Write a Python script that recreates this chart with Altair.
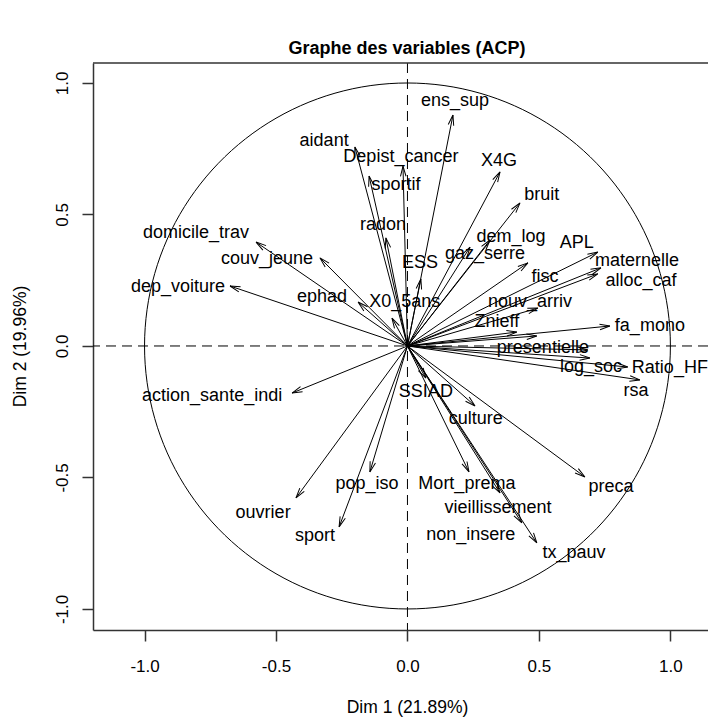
import altair as alt
import pandas as pd

# Variable names (PCA correlation circle)
names = [
    "ens_sup", "aidant", "Depist_cancer", "sportif", "radon", "X4G", "bruit",
    "dem_log", "gaz_serre", "ESS", "APL", "maternelle", "alloc_caf", "fisc",
    "nouv_arriv", "Znieff", "fa_mono", "presentielle", "", "log_soc",
    "Ratio_HF", "rsa", "domicile_trav", "couv_jeune", "dep_voiture", "ephad",
    "X0_5ans", "action_sante_indi", "SSIAD", "culture", "pop_iso", "ouvrier",
    "sport", "Mort_prema", "vieillissement", "non_insere", "tx_pauv", "preca",
]
# Coordinates on Dim 1 / Dim 2 (arrow tips)
dim1 = [
    0.173, -0.200, -0.017, -0.146, -0.082, 0.352, 0.428,
    0.314, 0.238, 0.051, 0.724, 0.736, 0.724, 0.458,
    0.496, 0.416, 0.770, 0.686, 0.492, 0.694,
    0.838, 0.884, -0.576, -0.333, -0.675, -0.188,
    -0.059, -0.439, 0.070, 0.257, -0.143, -0.424,
    -0.260, 0.234, 0.352, 0.435, 0.492, 0.675,
]
dim2 = [
    0.878, 0.757, 0.684, 0.646, 0.411, 0.662, 0.544,
    0.403, 0.376, 0.255, 0.357, 0.297, 0.274, 0.316,
    0.144, 0.053, 0.076, -0.015, 0.038, -0.046,
    -0.080, -0.129, 0.395, 0.335, 0.228, 0.167,
    0.106, -0.179, -0.122, -0.228, -0.479, -0.578,
    -0.688, -0.479, -0.559, -0.673, -0.749, -0.498,
]
# Label positions (as placed in the figure)
lab1 = [
    0.181, -0.317, -0.025, -0.044, -0.093, 0.348, 0.511,
    0.394, 0.295, 0.048, 0.644, 0.873, 0.888, 0.523,
    0.466, 0.340, 0.922, 0.515, 0.492, 0.698,
    0.998, 0.869, -0.804, -0.534, -0.873, -0.325,
    -0.010, -0.743, 0.070, 0.260, -0.154, -0.549,
    -0.352, 0.226, 0.344, 0.241, 0.633, 0.774,
]
lab2 = [
    0.932, 0.779, 0.719, 0.612, 0.460, 0.703, 0.574,
    0.415, 0.350, 0.316, 0.392, 0.323, 0.247, 0.262,
    0.167, 0.091, 0.076, -0.008, 0.038, -0.080,
    -0.084, -0.171, 0.430, 0.331, 0.224, 0.186,
    0.167, -0.190, -0.175, -0.278, -0.525, -0.635,
    -0.722, -0.525, -0.616, -0.719, -0.787, -0.536,
]
tick_values = [-1.0, -0.5, 0.0, 0.5, 1.0]

df = pd.DataFrame({"name": names, "d1": dim1, "d2": dim2, "l1": lab1, "l2": lab2})

FONT = "Liberation Sans"
FRAME = "#333333"
W, H = 615, 567

xs = alt.Scale(domain=[-1.196, 1.143], nice=False, zero=False)
ys = alt.Scale(domain=[-1.08, 1.076], nice=False, zero=False)

lab_expr = "replace(format(datum.value, '.1f'), '\u2212', '-')"

xaxis = alt.Axis(
    values=tick_values, labelExpr=lab_expr, title="Dim 1 (21.89%)", grid=False,
    tickSize=11, tickColor=FRAME, tickWidth=1.5, domainColor=FRAME, domainWidth=1.5,
    labelFont=FONT, labelFontSize=17, labelColor="black", labelPadding=17, labelFlush=False,
    titleFont=FONT, titleFontSize=17.5, titleFontWeight="normal", titleColor="black",
    titleX=314, titleY=77, titleAlign="center", titleBaseline="middle",
)
yaxis = alt.Axis(
    values=tick_values, labelExpr=lab_expr, title="Dim 2 (19.96%)", grid=False,
    tickSize=11, tickColor=FRAME, tickWidth=1.5, domainColor=FRAME, domainWidth=1.5,
    labelFont=FONT, labelFontSize=17, labelColor="black", labelPadding=11,
    labelAngle=-90, labelAlign="center", labelBaseline="bottom", labelFlush=False,
    titleFont=FONT, titleFontSize=17.5, titleFontWeight="normal", titleColor="black",
    titleX=-73, titleY=283, titleAlign="center", titleBaseline="middle",
)

zero_df = pd.DataFrame({"v": [0.0]})

vline = alt.Chart(zero_df).mark_rule(color="black", strokeWidth=1, strokeDash=[10, 6]).encode(
    x=alt.X("v:Q", scale=xs, axis=xaxis)
)
hline = alt.Chart(zero_df).mark_rule(color="black", strokeWidth=1, strokeDash=[10, 6]).encode(
    y=alt.Y("v:Q", scale=ys, axis=yaxis)
)
top = alt.Chart(zero_df).mark_rule(color=FRAME, strokeWidth=1.5).encode(
    y=alt.value(0), x=alt.value(0), x2=alt.value(W)
)

circle = alt.Chart(alt.sequence(0, 361, 2, as_="t")).transform_calculate(
    cx="cos(datum.t * PI / 180)", cy="sin(datum.t * PI / 180)"
).mark_line(color="black", strokeWidth=1).encode(
    x=alt.X("cx:Q", scale=xs, axis=xaxis),
    y=alt.Y("cy:Q", scale=ys, axis=yaxis),
    order="t:Q",
)

base = alt.Chart(df)

arrows = base.transform_calculate(x0="0", y0="0").mark_rule(color="black", strokeWidth=1).encode(
    x=alt.X("x0:Q", scale=xs, axis=xaxis),
    y=alt.Y("y0:Q", scale=ys, axis=yaxis),
    x2="d1:Q", y2="d2:Q",
)

heads = base.transform_calculate(
    ang="(atan2(-datum.d2, datum.d1) * 180 / PI + 360) % 360"
).mark_point(
    shape="M0,0L-1,-0.27M0,0L-1,0.27", filled=False, size=420,
    color="black", strokeWidth=1, opacity=1,
).encode(
    x=alt.X("d1:Q", scale=xs, axis=xaxis),
    y=alt.Y("d2:Q", scale=ys, axis=yaxis),
    angle=alt.Angle("ang:Q", scale=None),
)

labels = base.mark_text(font=FONT, fontSize=18, color="black", align="center", baseline="middle").encode(
    x=alt.X("l1:Q", scale=xs, axis=xaxis),
    y=alt.Y("l2:Q", scale=ys, axis=yaxis),
    text="name:N",
)

chart = alt.layer(circle, vline, hline, arrows, heads, labels, top).properties(
    width=W, height=H,
    autosize="none",
    padding={"left": 85, "top": 55, "right": 0, "bottom": 88},
    title=alt.TitleParams(
        "Graphe des variables (ACP)", font=FONT, fontSize=18, fontWeight="bold",
        anchor="middle", frame="group", offset=16, baseline="middle", dx=6.5, dy=21,
        color="black",
    ),
).configure_view(stroke=None)

chart.save("out.html", embed_options={"renderer": "svg", "actions": False})
